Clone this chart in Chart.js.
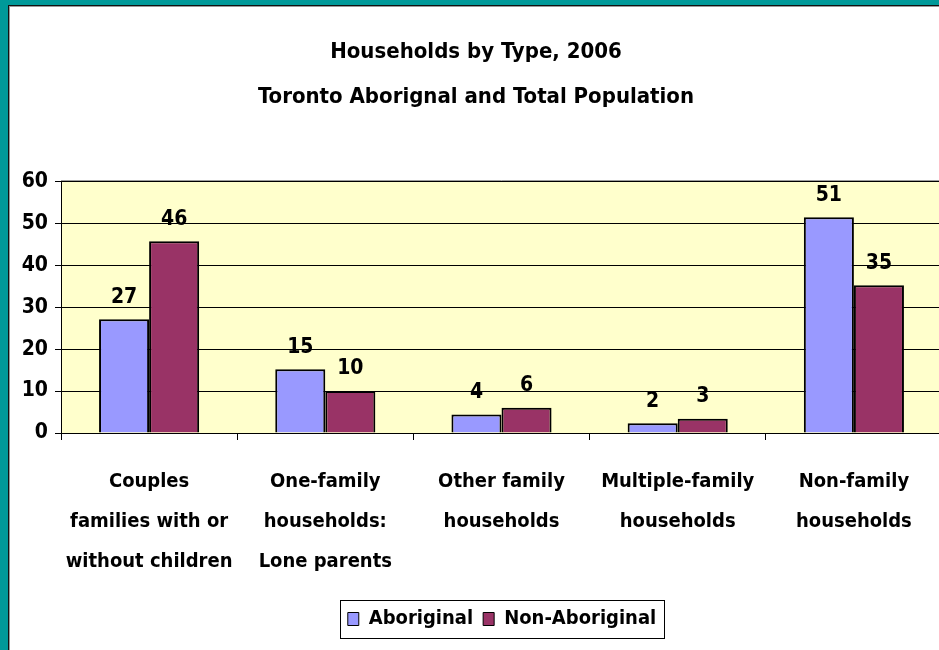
<!DOCTYPE html>
<html>
<head>
<meta charset="utf-8">
<script src="https://cdn.jsdelivr.net/npm/chart.js@4"></script>
<style>
    html, body { margin: 0; padding: 0; width: 939px; height: 650px; overflow: hidden; background: #009999; }
    #frame {
        position: absolute; left: 8px; top: 5px; width: 960px; height: 660px;
        background: #fff; border-left: 1px solid #111; border-top: 1px solid #111;
        box-shadow: inset 1px 1px 0 #999;
    }
    #wrap { position: absolute; left: 1px; top: 1px; width: 932px; height: 643px; }
</style>
</head>
<body>
<div id="frame"><div id="wrap"><canvas id="householdsChart"></canvas></div></div>
<script>
// Datos
const categories = [
    ['Couples', 'families with or', 'without children'],
    ['One-family', 'households:', 'Lone parents'],
    ['Other family', 'households'],
    ['Multiple-family', 'households'],
    ['Non-family', 'households']
];
const aboriginal = [27.1, 15.2, 4.4, 2.3, 51.4];
const nonAboriginal = [45.7, 10.0, 6.0, 3.4, 35.2];
const yTicks = [0, 10, 20, 30, 40, 50, 60];

const FONT = "'Liberation Sans Narrow', 'Arial Narrow', 'DejaVu Sans Condensed', sans-serif";

// Fondo amarillo del área de trazado
const plotBackground = {
    id: 'plotBackground',
    beforeDraw(chart) {
        const { ctx, chartArea: a } = chart;
        ctx.save();
        ctx.fillStyle = '#FFFFCC';
        ctx.fillRect(a.left, a.top, a.right - a.left, a.bottom - a.top);
        ctx.strokeStyle = '#888';
        ctx.lineWidth = 1;
        ctx.beginPath();
        ctx.moveTo(a.left, a.top - 0.5);
        ctx.lineTo(a.right, a.top - 0.5);
        ctx.stroke();
        ctx.restore();
    }
};

// Etiquetas de valor sobre las barras
const valueLabels = {
    id: 'valueLabels',
    afterDatasetsDraw(chart) {
        const ctx = chart.ctx;
        ctx.save();
        ctx.font = 'bold 21px ' + FONT;
        ctx.fillStyle = '#000';
        ctx.textAlign = 'center';
        ctx.textBaseline = 'middle';
        chart.data.datasets.forEach((ds, i) => {
            chart.getDatasetMeta(i).data.forEach((bar, j) => {
                ctx.fillText(Math.round(ds.data[j]), bar.x, bar.y - 22);
            });
        });
        ctx.restore();
    }
};

// Recuadro de la leyenda (desplazada un poco a la derecha como en el original)
const legendBox = {
    id: 'legendBox',
    afterLayout(chart) {
        chart.legend.left += 26;
        chart.legend.right += 26;
    },
    afterDraw(chart) {
        const boxes = chart.legend.legendHitBoxes;
        if (!boxes || !boxes.length) return;
        const left = Math.min(...boxes.map(b => b.left)) - 8;
        const right = Math.max(...boxes.map(b => b.left + b.width)) + 8;
        const top = Math.min(...boxes.map(b => b.top)) - 9;
        const bottom = Math.max(...boxes.map(b => b.top + b.height)) + 9;
        const ctx = chart.ctx;
        ctx.save();
        ctx.strokeStyle = '#000';
        ctx.lineWidth = 1;
        ctx.strokeRect(Math.round(left) + 0.5, Math.round(top) + 0.5, Math.round(right - left), Math.round(bottom - top));
        ctx.restore();
    }
};

const ctx = document.getElementById('householdsChart').getContext('2d');
const householdsChart = new Chart(ctx, {
    type: 'bar',
    data: {
        labels: categories,
        datasets: [
            {
                label: 'Aboriginal',
                data: aboriginal,
                backgroundColor: '#9999FF',
                borderColor: '#000',
                borderWidth: 2
            },
            {
                label: 'Non-Aboriginal',
                data: nonAboriginal,
                backgroundColor: '#993366',
                borderColor: '#000',
                borderWidth: 2
            }
        ]
    },
    options: {
        responsive: true,
        maintainAspectRatio: false,
        animation: false,
        categoryPercentage: 100 / 176,
        barPercentage: 1,
        layout: { padding: { left: 0, right: 0, top: 0, bottom: 11 } },
        plugins: {
            title: {
                display: true,
                text: ['Households by Type, 2006', 'Toronto Aborignal and Total Population'],
                color: '#000',
                font: { family: FONT, size: 22, weight: 'bold', lineHeight: 2.05 },
                padding: { top: 23, bottom: 61 }
            },
            legend: {
                position: 'bottom',
                labels: {
                    color: '#000',
                    font: { family: FONT, size: 20, weight: 'bold' },
                    boxWidth: 11,
                    boxHeight: 13,
                    padding: 10,
                    generateLabels(chart) {
                        return chart.data.datasets.map((ds, i) => ({
                            text: ds.label,
                            fillStyle: ds.backgroundColor,
                            strokeStyle: '#000',
                            lineWidth: 1,
                            datasetIndex: i
                        }));
                    }
                }
            },
            tooltip: { enabled: false }
        },
        scales: {
            x: {
                grid: { display: true, drawOnChartArea: false, offset: true, color: '#000', tickLength: 7 },
                border: { color: '#000' },
                ticks: {
                    color: '#000',
                    font: { family: FONT, size: 20, weight: 'bold', lineHeight: 2 },
                    padding: 22,
                    autoSkip: false,
                    maxRotation: 0
                },
                afterFit(scale) { scale.height = 166; }
            },
            y: {
                min: 0,
                max: 60,
                afterBuildTicks(scale) { scale.ticks = yTicks.map(v => ({ value: v })); },
                grid: { color: '#000', tickLength: 6 },
                border: { color: '#000' },
                ticks: {
                    color: '#000',
                    font: { family: FONT, size: 21, weight: 'bold' },
                    padding: 7
                },
                afterFit(scale) { scale.width = 51; }
            }
        }
    },
    plugins: [plotBackground, valueLabels, legendBox]
});
</script>
</body>
</html>
